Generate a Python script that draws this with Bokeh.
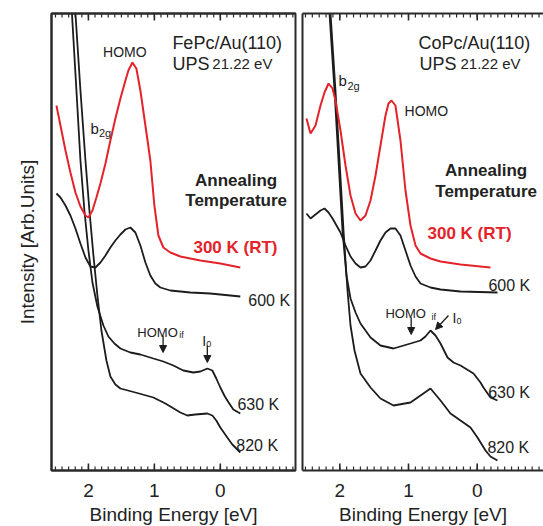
from bokeh.plotting import figure
from bokeh.models import Range1d, LinearAxis, FixedTicker, Arrow, NormalHead, Label
from bokeh.layouts import row
from bokeh.embed import file_html
from bokeh.resources import INLINE

# ---------------- data: FePc/Au(110) ----------------
fe_red_be = [2.485, 2.424, 2.348, 2.273, 2.197, 2.121, 2.045, 2.0, 1.939, 1.879, 1.818, 1.742, 1.667, 1.591, 1.515,
             1.439, 1.394, 1.333, 1.273, 1.212, 1.136, 1.061, 1.0, 0.939, 0.864, 0.758, 0.606, 0.303, 0.0, -0.303]
fe_red_i = [365, 345, 320, 298, 278, 264, 255, 253, 260, 273, 287, 307, 330, 352, 372,
            390, 400, 408, 402, 380, 345, 310, 265, 235, 223, 218, 214, 210, 207, 203]

fe_600_be = [2.485, 2.424, 2.348, 2.273, 2.197, 2.121, 2.045, 1.970, 1.894, 1.818, 1.742, 1.667, 1.591, 1.515,
             1.439, 1.364, 1.288, 1.212, 1.136, 1.061, 0.985, 0.909, 0.758, 0.455, 0.152, -0.303]
fe_600_i = [277, 273, 265, 255, 242, 227, 213, 204, 203, 208, 215, 223, 230, 236,
            241, 243, 238, 225, 208, 195, 187, 183, 180, 178, 177, 174]

fe_630_be = [2.29, 2.250, 2.182, 2.121, 2.061, 2.0, 1.939, 1.864, 1.773, 1.697, 1.606, 1.515, 1.364, 1.212,
             1.015, 0.864, 0.712, 0.561, 0.409, 0.303, 0.197, 0.121, 0.061, 0.0, -0.061, -0.106, -0.197, -0.303]
fe_630_i = [490, 457, 380, 310, 260, 220, 188, 164, 145, 134, 127, 122, 118, 116,
            112, 109, 105, 100, 98, 99, 102, 100, 92, 83, 75, 70, 61, 57]

fe_820_be = [2.24, 2.197, 2.121, 2.045, 1.985, 1.924, 1.864, 1.803, 1.727, 1.667, 1.591, 1.515, 1.288,
             1.015, 0.833, 0.606, 0.5, 0.379, 0.197, 0.121, 0.061, 0.0, -0.106, -0.182, -0.303]
fe_820_i = [490, 457, 380, 310, 260, 215, 175, 140, 110, 94, 86, 82, 78,
            73, 67, 58, 55, 56, 57, 55, 50, 43, 33, 26, 18]

# ---------------- data: CoPc/Au(110) ----------------
co_red_be = [2.485, 2.426, 2.354, 2.281, 2.223, 2.164, 2.106, 2.063, 1.990, 1.917, 1.844, 1.771, 1.699, 1.626, 1.553,
             1.480, 1.408, 1.335, 1.291, 1.248, 1.190, 1.117, 1.044, 0.971, 0.898, 0.825, 0.680, 0.534, 0.243, -0.193]
co_red_i = [352, 337, 345, 365, 378, 387, 382, 370, 340, 305, 275, 257, 250, 255, 270,
            295, 325, 355, 367, 370, 365, 330, 280, 245, 225, 217, 212, 209, 206, 203]

co_600_be = [2.485, 2.426, 2.354, 2.281, 2.223, 2.164, 2.106, 1.990, 1.917, 1.844, 1.771, 1.699, 1.626, 1.553,
             1.480, 1.408, 1.335, 1.262, 1.190, 1.117, 1.044, 0.971, 0.898, 0.825, 0.680, 0.534, 0.243, -0.295]
co_600_i = [257, 252, 256, 260, 262, 258, 252, 238, 225, 214, 207, 203, 204, 210,
            220, 230, 238, 242, 242, 235, 220, 205, 194, 187, 183, 181, 179, 178]

co_630_be = [2.18, 2.150, 2.077, 2.019, 1.961, 1.903, 1.844, 1.771, 1.699, 1.553, 1.408, 1.218, 0.971,
             0.825, 0.753, 0.680, 0.607, 0.534, 0.432, 0.345, 0.243, 0.054, -0.048, -0.091, -0.193, -0.295]
co_630_i = [490, 457, 380, 310, 240, 195, 172, 158, 147, 133, 125, 122, 127,
            130, 134, 140, 135, 127, 113, 108, 105, 97, 88, 83, 73, 70]

co_820_be = [2.165, 2.135, 2.063, 2.004, 1.946, 1.888, 1.844, 1.786, 1.699, 1.553, 1.408, 1.218, 0.971,
             0.825, 0.680, 0.534, 0.389, 0.243, 0.098, -0.004, -0.121, -0.193, -0.295]
co_820_i = [490, 457, 380, 310, 240, 180, 145, 120, 97, 83, 72, 65, 68,
            75, 82, 70, 57, 50, 43, 33, 20, 14, 10]

major_ticks = [2, 1, 0]
minor_ticks = [round(-1.1 + 0.1 * k, 1) for k in range(37)]

FONT = "Liberation Sans"
RED = "#e4222a"
BLACK = "#1c1c1c"
FRAME = "#2a2a2a"
Y_TOP = 457
MAJOR_LEN = 7
MINOR_LEN = 4


def plain_axis():
    ax = LinearAxis(ticker=FixedTicker(ticks=[], minor_ticks=[]))
    ax.major_tick_line_color = None
    ax.minor_tick_line_color = None
    ax.major_label_standoff = 0
    ax.axis_line_width = 2
    ax.axis_line_color = FRAME
    return ax


def make_panel(xr, fw, left_border, right_border, with_ylabel, outline):
    p = figure(frame_width=fw, frame_height=457, x_range=Range1d(*xr), y_range=Range1d(0, Y_TOP),
               output_backend="svg", toolbar_location=None, x_axis_location=None, y_axis_location=None,
               min_border_left=left_border, min_border_right=right_border, min_border_top=13,
               min_border_bottom=56, background_fill_color="white", border_fill_color="white")
    p.xgrid.visible = False
    p.ygrid.visible = False
    if outline:
        p.outline_line_color = FRAME
        p.outline_line_width = 2
    else:
        p.outline_line_color = None

    bottom = LinearAxis(ticker=FixedTicker(ticks=major_ticks, minor_ticks=minor_ticks))
    bottom.major_tick_line_color = None
    bottom.minor_tick_line_color = None
    bottom.axis_line_width = 2
    bottom.axis_line_color = FRAME
    bottom.major_label_text_font = FONT
    bottom.major_label_text_font_size = "19px"
    bottom.major_label_text_color = "#222222"
    bottom.major_label_standoff = 7
    bottom.axis_label = "Binding Energy [eV]"
    bottom.axis_label_text_font = FONT
    bottom.axis_label_text_font_size = "19px"
    bottom.axis_label_text_font_style = "normal"
    bottom.axis_label_text_color = "#222222"
    bottom.axis_label_standoff = 4
    p.add_layout(bottom, "below")

    p.add_layout(plain_axis(), "above")

    yax = plain_axis()
    if with_ylabel:
        yax.axis_label = "Intensity [Arb.Units]"
        yax.axis_label_text_font = FONT
        yax.axis_label_text_font_size = "19px"
        yax.axis_label_text_font_style = "normal"
        yax.axis_label_text_color = "#222222"
        yax.axis_label_standoff = 14
    p.add_layout(yax, "left")

    # inward tick marks on bottom and top edges, drawn at the tick values
    p.segment(x0=major_ticks, y0=[0] * len(major_ticks), x1=major_ticks, y1=[MAJOR_LEN] * len(major_ticks),
              line_color=FRAME, line_width=1.6)
    p.segment(x0=minor_ticks, y0=[0] * len(minor_ticks), x1=minor_ticks, y1=[MINOR_LEN] * len(minor_ticks),
              line_color=FRAME, line_width=1.2)
    p.segment(x0=major_ticks, y0=[Y_TOP] * len(major_ticks), x1=major_ticks,
              y1=[Y_TOP - MAJOR_LEN] * len(major_ticks), line_color=FRAME, line_width=1.6)
    p.segment(x0=minor_ticks, y0=[Y_TOP] * len(minor_ticks), x1=minor_ticks,
              y1=[Y_TOP - MINOR_LEN] * len(minor_ticks), line_color=FRAME, line_width=1.2)
    return p


def label(p, x, y, text, size="14px", color="#222222", style="normal", align="left"):
    p.add_layout(Label(x=x, y=y, text=text, text_font=FONT, text_font_size=size, text_color=color,
                       text_font_style=style, text_align=align, text_baseline="alphabetic"))


def arrow(p, x0, y0, x1, y1):
    p.add_layout(Arrow(end=NormalHead(size=7, fill_color=BLACK, line_color=BLACK, line_width=1),
                       x_start=x0, y_start=y0, x_end=x1, y_end=y1, line_color=BLACK, line_width=1.3))


# ---------------- left panel ----------------
pl = make_panel((2.56, -1.14), 244, 51, 3, True, True)
pl.line(fe_630_be, fe_630_i, line_color=BLACK, line_width=1.8)
pl.line(fe_820_be, fe_820_i, line_color=BLACK, line_width=1.8)
pl.line(fe_600_be, fe_600_i, line_color=BLACK, line_width=1.8)
pl.line(fe_red_be, fe_red_i, line_color=RED, line_width=2)

label(pl, 0.727, 428, "FePc/Au(110)", size="18px")
label(pl, 0.727, 407, "UPS", size="18px")
label(pl, 0.121, 407, "21.22 eV", size="15px")
label(pl, 1.447, 419, "HOMO", size="14px", align="center")
label(pl, 1.97, 342, "b", size="15px")
label(pl, 1.84, 338, "2g", size="11px")
label(pl, -0.24, 290, "Annealing", size="17px", style="bold", align="center")
label(pl, -0.24, 270, "Temperature", size="17px", style="bold", align="center")
label(pl, -0.23, 223, "300 K (RT)", size="17px", style="bold", color=RED, align="center")
label(pl, -0.424, 170, "600 K", size="16px")
label(pl, -0.26, 66, "630 K", size="16px")
label(pl, -0.242, 25, "820 K", size="16px")
label(pl, 1.258, 138, "HOMO", size="13px")
label(pl, 0.621, 136, "if", size="9px")
label(pl, 0.273, 130, "I", size="14px")
label(pl, 0.212, 127, "0", size="9px")
arrow(pl, 0.868, 135, 0.868, 118)
arrow(pl, 0.197, 125, 0.197, 108)

# ---------------- right panel ----------------
pr = make_panel((2.543, -0.965), 241, 4, 0, False, False)
pr.line(co_630_be, co_630_i, line_color=BLACK, line_width=1.8)
pr.line(co_820_be, co_820_i, line_color=BLACK, line_width=1.8)
pr.line(co_600_be, co_600_i, line_color=BLACK, line_width=1.8)
pr.line(co_red_be, co_red_i, line_color=RED, line_width=2)

label(pr, 0.854, 428, "CoPc/Au(110)", size="18px")
label(pr, 0.840, 407, "UPS", size="18px")
label(pr, 0.243, 407, "21.22 eV", size="15px")
label(pr, 2.019, 390, "b", size="15px")
label(pr, 1.888, 385, "2g", size="11px")
label(pr, 1.058, 360, "HOMO", size="14px")
label(pr, -0.13, 300, "Annealing", size="17px", style="bold", align="center")
label(pr, -0.13, 279, "Temperature", size="17px", style="bold", align="center")
label(pr, 0.112, 237, "300 K (RT)", size="17px", style="bold", color=RED, align="center")
label(pr, -0.164, 185, "600 K", size="16px")
label(pr, -0.16, 78, "630 K", size="16px")
label(pr, -0.149, 23, "820 K", size="16px")
label(pr, 1.336, 157, "HOMO", size="13px")
label(pr, 0.666, 154, "if", size="9px")
label(pr, 0.360, 153, "I", size="14px")
label(pr, 0.301, 150, "0", size="9px")
arrow(pr, 0.961, 153, 0.961, 136)
arrow(pr, 0.418, 155, 0.607, 141)

layout = row(pl, pr, spacing=0)
open("out.html", "w").write(file_html(layout, INLINE))
